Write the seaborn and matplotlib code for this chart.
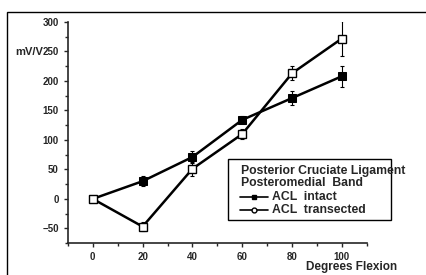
import numpy as np
import pandas as pd
import matplotlib
matplotlib.use("Agg")
import matplotlib.pyplot as plt
import seaborn as sns
from matplotlib.patches import Rectangle

flexion = [0, 20, 40, 60, 80, 100]
intact = [0, 30, 71, 134, 171, 208]
intact_err = [0, 8, 10, 6, 12, 18]
transected = [0, -47, 51, 110, 213, 272]
transected_err = [0, 8, 12, 8, 12, 30]

sns.set_style("ticks")
plt.rcParams['font.family'] = ['Liberation Sans', 'DejaVu Sans']
plt.rcParams['font.weight'] = 'bold'

df = pd.DataFrame({
    'flexion': flexion * 2,
    'value': intact + transected,
    'group': ['ACL  intact'] * 6 + ['ACL  transected'] * 6,
})

fig = plt.figure(figsize=(4.27, 2.75), dpi=100)
ax = fig.add_axes([0.159, 0.116, 0.70, 0.804])

# error bars first so the markers sit on top
ax.errorbar(flexion, intact, yerr=intact_err, fmt='none', ecolor='black',
            elinewidth=0.8, capsize=1.5, capthick=0.8, zorder=1)
ax.errorbar(flexion, transected, yerr=transected_err, fmt='none', ecolor='black',
            elinewidth=0.8, capsize=1.5, capthick=0.8, zorder=1)

sns.lineplot(data=df, x='flexion', y='value', hue='group', style='group',
             palette=['black', 'black'], markers=['s', 's'], dashes=False,
             linewidth=1.8, markersize=6, ax=ax, legend=False, zorder=2)
# open markers for the transected series
lines = ax.get_lines()
lines[-1].set_markerfacecolor('white')
lines[-1].set_markeredgecolor('black')
lines[-1].set_markeredgewidth(1.0)
lines[-1].set_zorder(3)
lines[-2].set_markerfacecolor('black')
lines[-2].set_markeredgecolor('black')

ax.set_xlim(-10, 110)
ax.set_ylim(-75, 300)
ax.set_xticks(flexion)
ax.set_xticks([-10, 10, 30, 50, 70, 90, 110], minor=True)
ax.set_yticks([-50, 0, 50, 100, 150, 200, 250, 300])
ax.set_yticks([-75, -25, 25, 75, 125, 175, 225, 275], minor=True)
ax.tick_params(axis='both', which='major', labelsize=7, length=3, width=1, direction='out')
ax.tick_params(axis='both', which='minor', length=2, width=1, direction='out')
for lab in ax.get_xticklabels() + ax.get_yticklabels():
    lab.set_fontweight('bold')
sns.despine(ax=ax)
for s in ['left', 'bottom']:
    ax.spines[s].set_linewidth(1.2)
ax.set_xlabel('')
ax.set_ylabel('')

fig.text(0.035, 0.81, 'mV/V', fontsize=8, fontweight='bold', va='center', ha='left')
fig.text(0.93, 0.03, 'Degrees Flexion', fontsize=8.5, fontweight='bold', va='center', ha='right')

# legend box
fig.patches.append(Rectangle((0.534, 0.2), 0.382, 0.222, transform=fig.transFigure,
                             fill=False, edgecolor='black', linewidth=1.0))
fig.text(0.564, 0.378, 'Posterior Cruciate Ligament', fontsize=8.8, fontweight='bold', va='center')
fig.text(0.564, 0.333, 'Posteromedial  Band', fontsize=8.8, fontweight='bold', va='center')
fig.text(0.637, 0.284, 'ACL  intact', fontsize=8.8, fontweight='bold', va='center')
fig.text(0.637, 0.236, 'ACL  transected', fontsize=8.8, fontweight='bold', va='center')
fig.lines.append(plt.Line2D([0.562, 0.596, 0.628], [0.284, 0.284, 0.284], transform=fig.transFigure,
                            color='black', lw=1.2, marker='s', markevery=[1],
                            markersize=3, markerfacecolor='black'))
fig.lines.append(plt.Line2D([0.562, 0.596, 0.628], [0.236, 0.236, 0.236], transform=fig.transFigure,
                            color='black', lw=1.2, marker='o', markevery=[1],
                            markersize=3.5, markerfacecolor='white'))

# outer frame
fig.patches.append(Rectangle((0.017, -0.05), 1.1, 1.006, transform=fig.transFigure,
                             fill=False, edgecolor='black', linewidth=1.0))

fig.savefig('out.png', dpi=100)
